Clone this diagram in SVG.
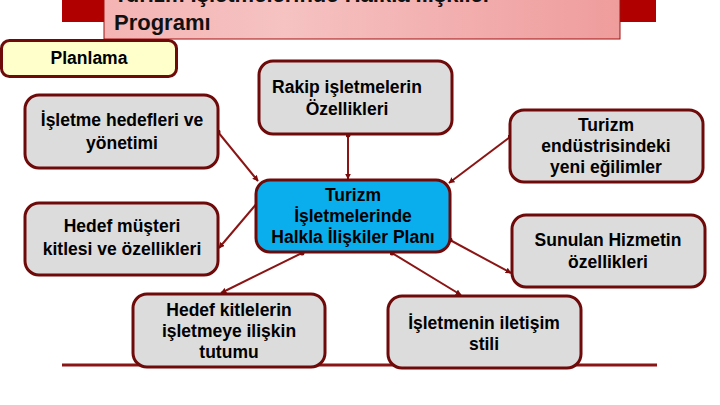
<svg xmlns="http://www.w3.org/2000/svg" width="720" height="405" viewBox="0 0 720 405">
<defs>
<linearGradient id="pinkGrad" x1="0" y1="0" x2="1" y2="0">
<stop offset="0" stop-color="#f4b4b4"/>
<stop offset="0.35" stop-color="#f6c2c2"/>
<stop offset="1" stop-color="#ef9c9c"/>
</linearGradient>
<marker id="arr" viewBox="0 0 10 10" refX="9" refY="5" markerWidth="3" markerHeight="3" orient="auto">
<path d="M0,0 L10,5 L0,10 z" fill="#7a0c0c"/>
</marker>
<marker id="dot" viewBox="0 0 10 10" refX="5" refY="5" markerWidth="2.5" markerHeight="2.5">
<circle cx="5" cy="5" r="5" fill="#7a0c0c"/>
</marker>
<style>
.box{fill:#dcdcdc;stroke:#6e0a0a;stroke-width:3}
.t{font-family:"Liberation Sans",Arial,sans-serif;font-weight:bold;font-size:17.5px;fill:#000;text-anchor:middle}
.c{stroke:#8b1414;stroke-width:2;fill:none;marker-end:url(#arr);marker-start:url(#dot)}
</style>
</defs>
<rect width="720" height="405" fill="#ffffff"/>
<g id="title">
<rect x="62" y="0" width="594" height="22" fill="#b00000"/>
<rect x="104" y="-2" width="516" height="41" fill="url(#pinkGrad)" stroke="#a01010" stroke-width="1"/>
<text x="114" y="2" font-family="Liberation Sans,Arial,sans-serif" font-weight="bold" font-size="22" fill="#111">Turizm İşletmelerinde Halkla İlişkiler</text>
<text x="114" y="30" font-family="Liberation Sans,Arial,sans-serif" font-weight="bold" font-size="22" fill="#111">Programı</text>
</g>
<g id="planlama">
<rect x="1.5" y="40.5" width="175" height="36" rx="8" fill="#ffffcc" stroke="#6e0a0a" stroke-width="3"/>
<text class="t" x="89" y="64">Planlama</text>
</g>
<g id="connectors">
<line class="c" x1="218" y1="132" x2="258" y2="181"/>
<line class="c" x1="348" y1="135" x2="348" y2="179"/>
<line class="c" x1="510" y1="137" x2="449" y2="183"/>
<line class="c" x1="450" y1="240" x2="511" y2="273"/>
<line class="c" x1="392" y1="253" x2="461" y2="295"/>
<line class="c" x1="302" y1="253" x2="221" y2="293"/>
<line class="c" x1="258" y1="202" x2="219" y2="248"/>
<line x1="62" y1="365" x2="657" y2="365" stroke="#8b1414" stroke-width="3"/>
</g>
<g id="isletme-hedefleri">
<rect class="box" x="25" y="95" width="193" height="73" rx="14"/>
<text class="t" x="122" y="126">İşletme hedefleri ve</text>
<text class="t" x="122" y="149">yönetimi</text>
</g>
<g id="hedef-musteri">
<rect class="box" x="25" y="203" width="193" height="72" rx="14"/>
<text class="t" x="122" y="232">Hedef müşteri</text>
<text class="t" x="122" y="255">kitlesi ve özellikleri</text>
</g>
<g id="rakip">
<rect class="box" x="259" y="61" width="193" height="73" rx="14"/>
<text class="t" x="347" y="93">Rakip işletmelerin</text>
<text class="t" x="347" y="115">Özellikleri</text>
</g>
<g id="center">
<rect x="256" y="180" width="194" height="72" rx="14" fill="#0aaeec" stroke="#6e0a0a" stroke-width="3"/>
<text class="t" x="353" y="201">Turizm</text>
<text class="t" x="353" y="222">İşletmelerinde</text>
<text class="t" x="353" y="243">Halkla İlişkiler Planı</text>
</g>
<g id="endustri">
<rect class="box" x="510" y="110" width="193" height="72" rx="14"/>
<text class="t" x="606" y="131">Turizm</text>
<text class="t" x="606" y="152">endüstrisindeki</text>
<text class="t" x="606" y="173">yeni eğilimler</text>
</g>
<g id="sunulan">
<rect class="box" x="512" y="215" width="193" height="72" rx="14"/>
<text class="t" x="608" y="246">Sunulan Hizmetin</text>
<text class="t" x="608" y="268">özellikleri</text>
</g>
<g id="hedef-kitle">
<rect class="box" x="133" y="294" width="192" height="73" rx="14"/>
<text class="t" x="229" y="316">Hedef kitlelerin</text>
<text class="t" x="229" y="337">işletmeye ilişkin</text>
<text class="t" x="229" y="358">tutumu</text>
</g>
<g id="iletisim">
<rect class="box" x="388" y="296" width="193" height="72" rx="14"/>
<text class="t" x="484" y="329">İşletmenin iletişim</text>
<text class="t" x="484" y="350">stili</text>
</g>
</svg>
